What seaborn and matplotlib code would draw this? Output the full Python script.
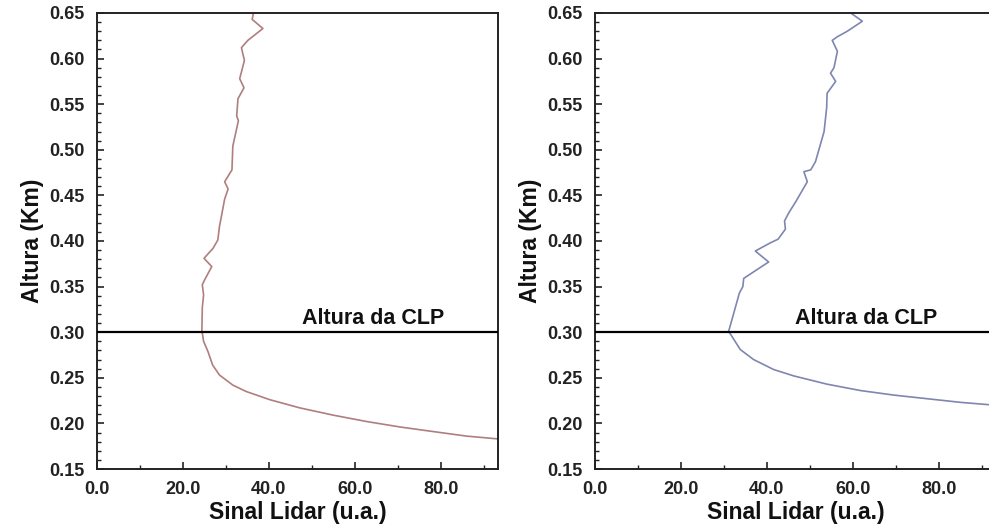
import matplotlib
matplotlib.use("Agg")
import matplotlib.pyplot as plt
import seaborn as sns
import pandas as pd
from matplotlib.ticker import MultipleLocator, FormatStrFormatter

# ---- data ----
left_signal = [36.4, 36.1, 38.6, 35.1, 33.6, 34.3, 33.2, 34.2, 32.8, 32.5, 32.9, 31.6, 31.4,
               29.7, 30.5, 29.7, 28.5, 28.1, 27.0, 24.9, 26.7, 25.0, 24.5, 24.8, 24.5, 24.4,
               24.8, 25.8, 26.9, 28.5, 31.6, 34.7, 40.2, 47.2, 55.0, 62.8, 70.6, 78.3, 86.1, 93.3]
left_height = [0.650, 0.643, 0.633, 0.620, 0.612, 0.598, 0.578, 0.568, 0.556, 0.537, 0.532, 0.504, 0.478,
               0.465, 0.457, 0.446, 0.416, 0.401, 0.392, 0.381, 0.372, 0.357, 0.352, 0.341, 0.327, 0.302,
               0.290, 0.279, 0.264, 0.253, 0.242, 0.235, 0.226, 0.217, 0.209, 0.202, 0.196, 0.191, 0.186, 0.183]

right_signal = [59.5, 62.2, 58.7, 56.4, 55.2, 56.4, 55.6, 54.8, 56.0, 54.0, 53.9, 53.3, 51.3, 50.2,
                48.6, 49.4, 46.7, 45.1, 44.1, 44.3, 42.6, 40.8, 37.3, 40.4, 34.6, 34.4, 33.6, 31.1,
                33.8, 36.9, 41.6, 46.3, 54.0, 61.8, 69.6, 77.4, 85.2, 93.0]
right_height = [0.650, 0.641, 0.630, 0.624, 0.620, 0.608, 0.590, 0.584, 0.575, 0.562, 0.546, 0.520, 0.487, 0.478,
                0.476, 0.465, 0.443, 0.431, 0.422, 0.413, 0.402, 0.398, 0.389, 0.377, 0.359, 0.350, 0.343, 0.301,
                0.281, 0.270, 0.259, 0.252, 0.243, 0.236, 0.231, 0.227, 0.223, 0.220]

clp_height = 0.30
clp_label = "Altura da CLP"
xlabel = "Sinal Lidar (u.a.)"
ylabel = "Altura (Km)"

# ---- style ----
sns.set_style("ticks")
plt.rcParams["font.family"] = ["Liberation Sans", "DejaVu Sans"]

fig = plt.figure(figsize=(9.89, 5.30), dpi=100)
W, H = 989, 530
ax1 = fig.add_axes([97 / W, 1 - 469 / H, 401 / W, 456 / H])
ax2 = fig.add_axes([595 / W, 1 - 469 / H, 401 / W, 456 / H])

panels = [
    (ax1, left_signal, left_height, "#b07e7e", 47.7),
    (ax2, right_signal, right_height, "#7f86b0", 46.6),
]

for ax, xs, ys, col, tx in panels:
    df = pd.DataFrame({"sinal": xs, "altura": ys})
    sns.lineplot(data=df, x="sinal", y="altura", sort=False, estimator=None,
                 color=col, linewidth=1.2, ax=ax)
    ax.axhline(clp_height, color="black", linewidth=1.6, zorder=3)
    ax.text(tx, clp_height + 0.003, clp_label, fontsize=15.5, fontweight="bold",
            ha="left", va="bottom", color="#111111")
    ax.set_xlim(0, 93.3)
    ax.set_ylim(0.15, 0.65)
    ax.xaxis.set_major_locator(MultipleLocator(20))
    ax.xaxis.set_minor_locator(MultipleLocator(10))
    ax.yaxis.set_major_locator(MultipleLocator(0.05))
    ax.yaxis.set_minor_locator(MultipleLocator(0.01))
    ax.xaxis.set_major_formatter(FormatStrFormatter("%.1f"))
    ax.yaxis.set_major_formatter(FormatStrFormatter("%.2f"))
    ax.tick_params(axis="both", which="major", direction="in", length=5, width=1.2,
                   labelsize=13, color="#222222")
    ax.tick_params(axis="both", which="minor", direction="in", length=3, width=1.0,
                   color="#222222")
    ax.tick_params(axis="y", which="both", pad=9)
    ax.tick_params(axis="x", which="both", pad=9)
    for lab in ax.get_xticklabels() + ax.get_yticklabels():
        lab.set_fontweight("bold")
        lab.set_color("#222222")
    for s in ax.spines.values():
        s.set_visible(True)
        s.set_linewidth(1.4)
        s.set_color("#222222")
    ax.set_xlabel(xlabel, fontsize=16.5, fontweight="bold", labelpad=2, color="#111111")
    ax.set_ylabel(ylabel, fontsize=16.5, fontweight="bold", labelpad=4, color="#111111")

fig.savefig("out.png", dpi=100)
